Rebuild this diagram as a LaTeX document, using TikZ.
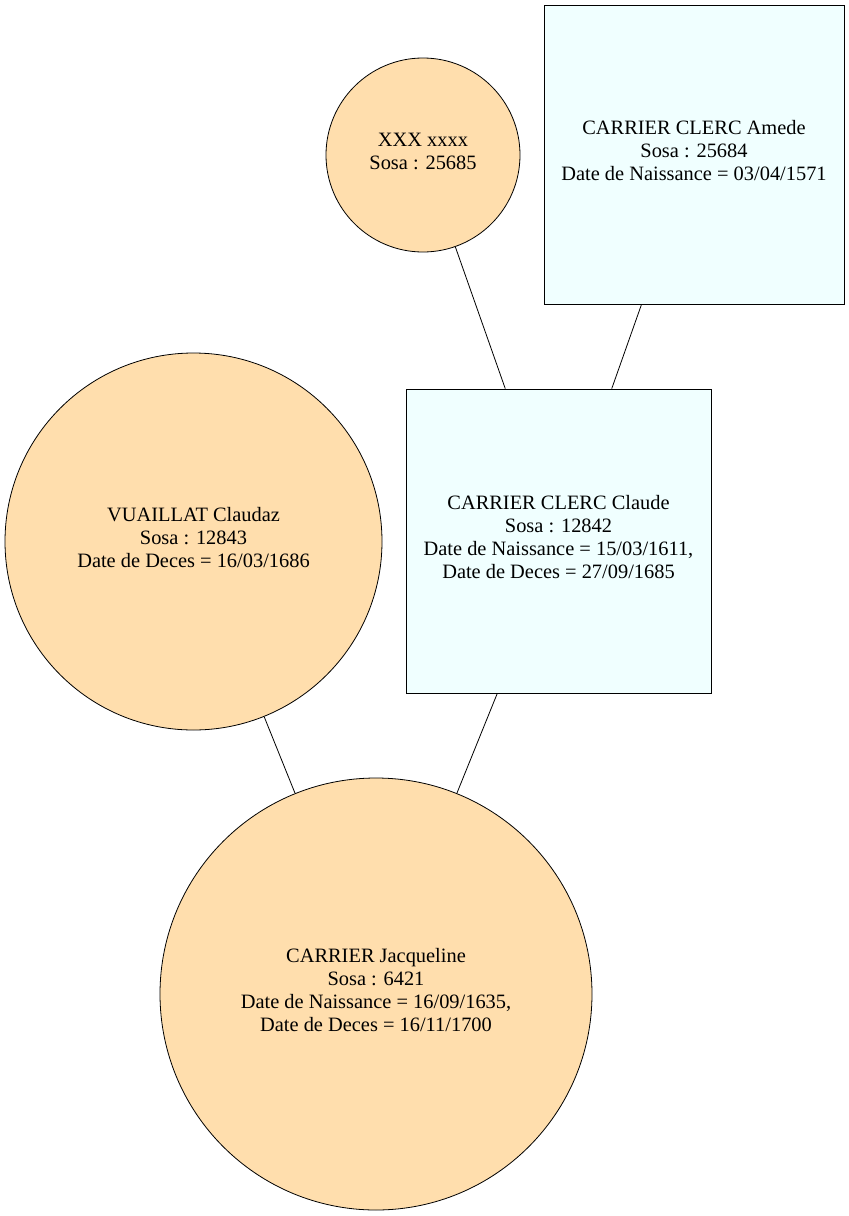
\documentclass[tikz,border=0pt]{standalone}
\usepackage{fontspec}
\setmainfont{Liberation Serif}
\definecolor{navajo}{HTML}{FFDEAD}
\definecolor{azurec}{HTML}{F0FFFF}
\begin{document}
\begin{tikzpicture}[x=1pt,y=-1pt,
  lbl/.style={font=\fontsize{20.4}{23}\selectfont, align=center, inner sep=0pt},
  txt/.style={label={[lbl,yshift=3.5pt]center:#1}},
  person/.style={circle, draw=black, fill=navajo, line width=0.8pt, inner sep=0pt},
  personbox/.style={rectangle, draw=black, fill=azurec, line width=0.8pt, inner sep=0pt},
  link/.style={draw=black, line width=0.8pt}]
\useasboundingbox (0,0) rectangle (849,1216);
\node[person, minimum size=194pt, txt={XXX xxxx\\Sosa : 25685}] (xxx) at (423,155) {};
\node[personbox, minimum width=300pt, minimum height=299pt, txt={CARRIER CLERC Amede\\Sosa : 25684\\Date de Naissance = 03/04/1571}] (amede) at (694,154.5) {};
\node[personbox, minimum width=305pt, minimum height=304pt, txt={CARRIER CLERC Claude\\Sosa : 12842\\Date de Naissance = 15/03/1611,\\Date de Deces = 27/09/1685}] (claude) at (558.5,541) {};
\node[person, minimum size=377pt, txt={VUAILLAT Claudaz\\Sosa : 12843\\Date de Deces = 16/03/1686}] (vuaillat) at (193.5,541.5) {};
\node[person, minimum size=432pt, txt={CARRIER Jacqueline\\Sosa : 6421\\Date de Naissance = 16/09/1635,\\Date de Deces = 16/11/1700}] (jacq) at (376,994) {};
\draw[link] (xxx) -- (claude);
\draw[link] (amede) -- (claude);
\draw[link] (vuaillat) -- (jacq);
\draw[link] (claude) -- (jacq);
\end{tikzpicture}
\end{document}
